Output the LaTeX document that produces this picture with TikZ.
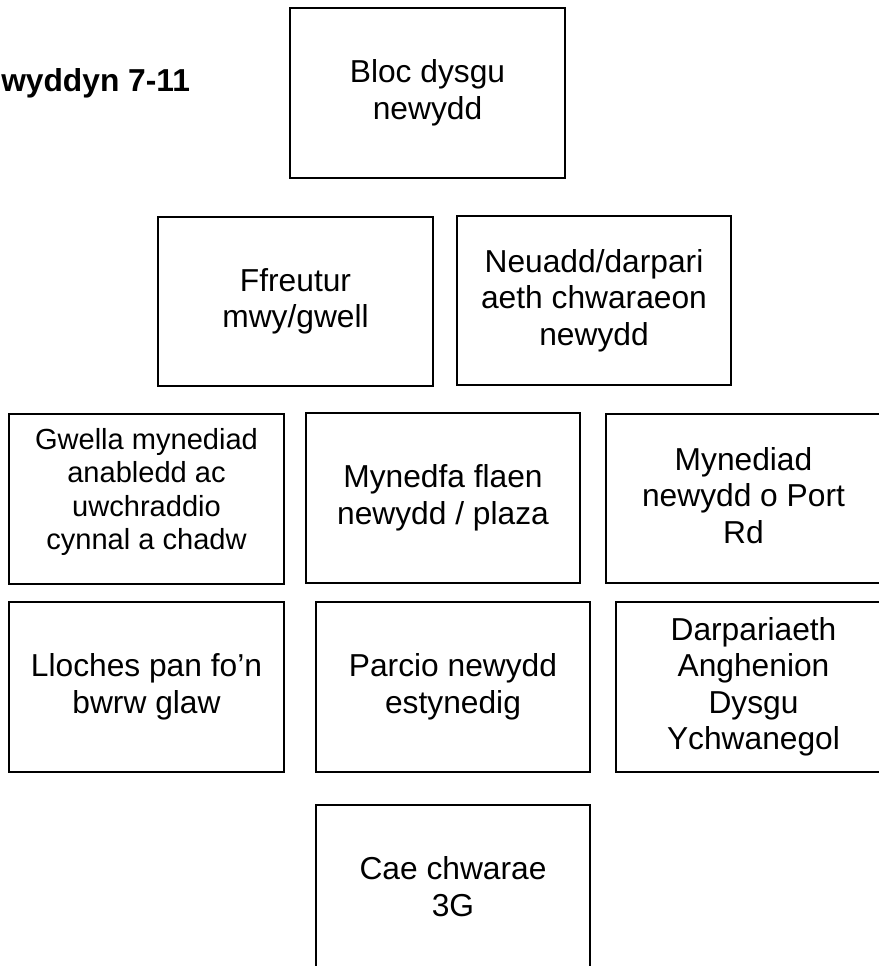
\documentclass[tikz,border=0pt]{standalone}
\usepackage{fontspec}
\setmainfont{Liberation Sans}
\usepackage{tikz}
\newcommand\boxstrut{\rule[-0.212em]{0pt}{1.117em}}
\tikzset{
  plan/.style    ={draw,line width=1.35pt,align=center,minimum width=206pt,minimum height=127pt,inner sep=0pt,
                   font=\fontsize{23.8}{27.4}\selectfont,
                   execute at begin node=\boxstrut,execute at end node=\boxstrut},
  smalltext/.style={font=\fontsize{21.8}{25}\selectfont},
  heading/.style ={font=\fontsize{23.8}{27.4}\selectfont\bfseries,inner sep=0pt,anchor=base west},
}
\begin{document}
\begin{tikzpicture}[x=0.75pt,y=-0.75pt]
  \useasboundingbox (0,0) rectangle (878,966);
  \node[heading](title) at (1,92){wyddyn 7-11};
  \node[plan](bloc) at (427.5,93){Bloc dysgu\\newydd};
  \node[plan](ffreutur) at (295.5,301.5){Ffreutur\\mwy/gwell};  \node[plan](neuadd) at (594,300.5){Neuadd/darpari\\aeth chwaraeon\\newydd};
  \node[plan,smalltext](gwella) at (146.5,499){Gwella mynediad\\anabledd ac\\uwchraddio\\cynnal a chadw\rule[-15pt]{0pt}{0pt}};
  \node[plan](mynedfa) at (443,498){Mynedfa flaen\\newydd / plaza};  \node[plan](mynediad) at (743.5,498.5){Mynediad\\newydd o Port\\Rd};
  \node[plan](lloches) at (146.5,687){Lloches pan fo’n\\bwrw glaw};  \node[plan](parcio) at (453,687){Parcio newydd\\estynedig};
  \node[plan](darpariaeth) at (753.5,687){Darpariaeth\\Anghenion\\Dysgu\\Ychwanegol};
  \node[plan](cae) at (453,890){Cae chwarae\\3G};
\end{tikzpicture}
\end{document}
